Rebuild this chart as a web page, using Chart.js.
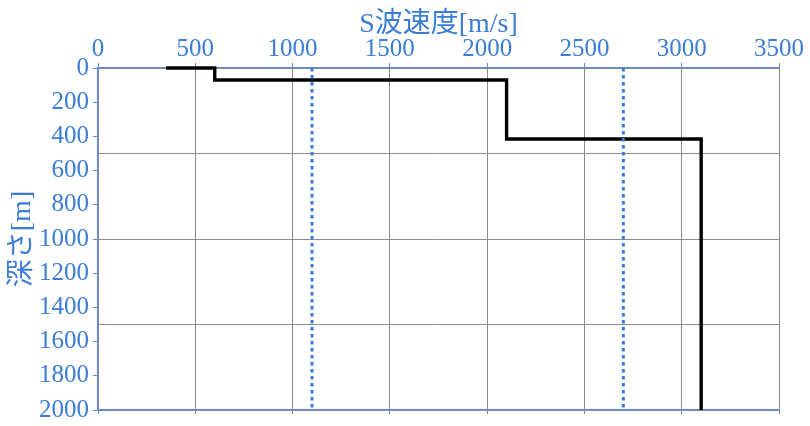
<!DOCTYPE html>
<html>
<head>
<meta charset="utf-8">
<script src="https://cdn.jsdelivr.net/npm/chart.js@4.4.1/dist/chart.umd.min.js"></script>
<style>
  html, body { margin: 0; padding: 0; background: #ffffff; }
  #wrap { width: 810px; height: 426px; position: relative; }
</style>
</head>
<body>
<div id="wrap"><canvas id="c"></canvas></div>
<script>
// --- data ---
const profileVelocity = [350, 600, 600, 2100, 2100, 3100, 3100];   // S-wave velocity [m/s]
const profileDepth    = [0, 0, 70, 70, 415, 415, 2000];            // depth [m]
const refVelocityA = [1100, 1100];
const refVelocityB = [2700, 2700];
const refDepth     = [0, 2000];
const xAxisTitle = 'S波速度[m/s]';
const yAxisTitle = '深さ[m]';

const BLUE_TEXT = '#3b7dd6';
const BLUE_AXIS = '#5a8fd8';
const GRID = '#8c8c8c';
const FONT = '"Liberation Serif", "Noto Sans CJK JP", serif';

function pts(xs, ys) { return xs.map((x, i) => ({ x: x, y: ys[i] })); }
function plain(v) { return String(v); }

new Chart(document.getElementById('c'), {
  type: 'scatter',
  data: {
    datasets: [
      {
        data: pts(refVelocityA, refDepth),
        showLine: true, borderColor: '#3a7bd8', borderWidth: 3,
        borderDash: [3.5, 3.5], borderCapStyle: 'butt',
        pointRadius: 0, xAxisID: 'x', yAxisID: 'y'
      },
      {
        data: pts(refVelocityB, refDepth),
        showLine: true, borderColor: '#3a7bd8', borderWidth: 3,
        borderDash: [3.5, 3.5], borderCapStyle: 'butt',
        pointRadius: 0, xAxisID: 'x', yAxisID: 'y'
      },
      {
        data: pts(profileVelocity, profileDepth),
        showLine: true, borderColor: '#000000', borderWidth: 3.4,
        borderJoinStyle: 'miter', clip: false,
        pointRadius: 0, xAxisID: 'x', yAxisID: 'y'
      }
    ]
  },
  options: {
    responsive: true,
    maintainAspectRatio: false,
    animation: false,
    layout: { padding: { left: 6, right: 31, top: 8, bottom: 12 } },
    plugins: { legend: { display: false }, tooltip: { enabled: false } },
    scales: {
      x: {
        type: 'linear', position: 'top', min: 0, max: 3500,
        ticks: { stepSize: 500, color: BLUE_TEXT, font: { family: FONT, size: 25 }, padding: -1, maxRotation: 0, callback: plain },
        grid: { color: GRID, lineWidth: 1, tickColor: BLUE_AXIS, tickLength: 5 },
        border: { color: BLUE_AXIS, width: 1.2 },
        title: { display: true, text: xAxisTitle, color: BLUE_TEXT, font: { family: FONT, size: 28 }, padding: { top: 0, bottom: 0 } },
        afterFit: function (s) { s.height = 60; }
      },
      x2: {
        type: 'linear', position: 'bottom', min: 0, max: 3500,
        ticks: { stepSize: 500, display: false },
        grid: { drawOnChartArea: false, tickColor: BLUE_AXIS, tickLength: 4 },
        border: { color: BLUE_AXIS, width: 1.2 },
        afterFit: function (s) { s.height = 4; }
      },
      y: {
        type: 'linear', position: 'left', reverse: true, min: 0, max: 2000,
        ticks: { stepSize: 200, color: BLUE_TEXT, font: { family: FONT, size: 25 }, padding: 4, callback: plain },
        grid: { drawOnChartArea: false, tickColor: BLUE_AXIS, tickLength: 5 },
        border: { color: BLUE_AXIS, width: 1.2 },
        title: { display: true, text: yAxisTitle, color: BLUE_TEXT, font: { family: FONT, size: 28 }, padding: { top: 0, bottom: 0 } },
        afterFit: function (s) { s.width = 92; s.paddingTop = 0; s.paddingBottom = 0; }
      },
      y2: {
        type: 'linear', position: 'right', reverse: true, min: 0, max: 2000,
        ticks: { stepSize: 500, display: false },
        grid: { color: GRID, lineWidth: 1, drawTicks: false },
        border: { display: false },
        afterFit: function (s) { s.width = 0; s.paddingTop = 0; s.paddingBottom = 0; }
      }
    }
  }
});
</script>
</body>
</html>
